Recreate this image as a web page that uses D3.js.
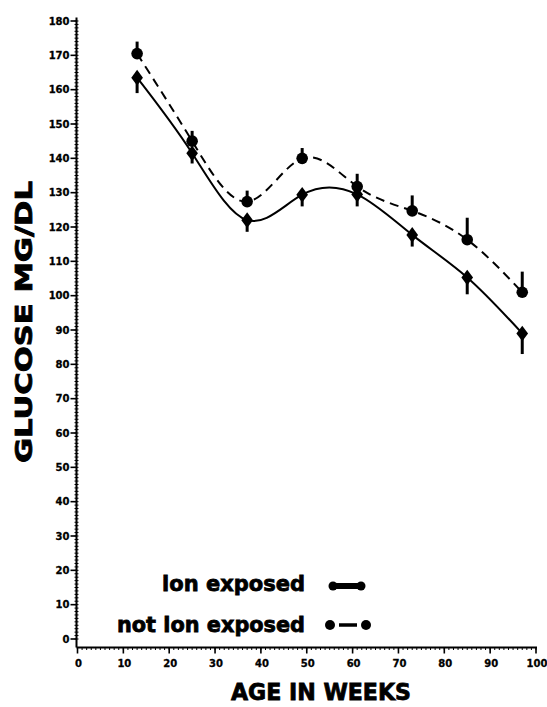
<!DOCTYPE html>
<html lang="en">
<head>
<meta charset="UTF-8">
<title>Glucose vs age</title>
<script src="https://d3js.org/d3.v7.min.js"></script>
<style>
    body { margin: 0; padding: 0; background: white; }
    text { font-family: 'DejaVu Sans', 'Liberation Sans', sans-serif; font-weight: bold; fill: #000; }
    .tick-label { font-size: 10px; stroke: #000; stroke-width: 0.3px; }
    .heavy { stroke: #000; stroke-width: 0.8px; }
</style>
</head>
<body>
<script>
    // data
    var weeks = [13, 25, 37, 49, 61, 73, 85, 97];
    var ionExposed = [163.5, 141.5, 122, 129.4, 129.5, 117.7, 105.3, 89];
    var ionErr = [4.5, 3, 3.4, 3.4, 3.5, 3.4, 4.9, 6];          // drawn downward
    var notExposed = [170.5, 145, 127.4, 140, 131.8, 124.7, 116.3, 101];
    var notErr = [3.5, 3, 3.2, 3, 3.7, 4.5, 6.4, 6];             // drawn upward
    var xTicks = [0, 10, 20, 30, 40, 50, 60, 70, 80, 90, 100];
    var yTicks = [0, 10, 20, 30, 40, 50, 60, 70, 80, 90, 100, 110, 120, 130, 140, 150, 160, 170, 180];
    var legendLabels = ["ion exposed", "not ion exposed"];

    var W = 547, H = 707;
    var svg = d3.select("body").append("svg")
        .attr("width", W)
        .attr("height", H);

    var x = d3.scaleLinear().domain([0, 100]).range([77.5, 536]);
    var y = d3.scaleLinear().domain([0, 180]).range([639, 21]);
    var axisX = 76.5, axisY = 647.5;

    // y axis
    var gy = svg.append("g");
    gy.append("line").attr("x1", axisX).attr("x2", axisX).attr("y1", y(181)).attr("y2", axisY)
        .attr("stroke", "#000").attr("stroke-width", 2);
    gy.selectAll("line.minor").data(d3.range(0, 181, 1)).enter().append("line")
        .attr("class", "minor")
        .attr("x1", axisX - 2).attr("x2", axisX + 2)
        .attr("y1", function(d) { return y(d); }).attr("y2", function(d) { return y(d); })
        .attr("stroke", "#000").attr("stroke-width", 1);
    gy.selectAll("line.major").data(yTicks).enter().append("line")
        .attr("class", "major")
        .attr("x1", axisX - 6).attr("x2", axisX)
        .attr("y1", function(d) { return y(d); }).attr("y2", function(d) { return y(d); })
        .attr("stroke", "#000").attr("stroke-width", 1.6);
    gy.selectAll("text").data(yTicks).enter().append("text")
        .attr("class", "tick-label")
        .attr("x", axisX - 7)
        .attr("y", function(d) { return y(d); })
        .attr("dy", "0.35em")
        .attr("text-anchor", "end")
        .text(function(d) { return d; });

    // x axis
    var gx = svg.append("g");
    gx.append("line").attr("x1", axisX).attr("x2", x(100) + 1).attr("y1", axisY).attr("y2", axisY)
        .attr("stroke", "#000").attr("stroke-width", 2);
    gx.selectAll("line.minor").data(d3.range(0, 101, 1)).enter().append("line")
        .attr("class", "minor")
        .attr("x1", function(d) { return x(d); }).attr("x2", function(d) { return x(d); })
        .attr("y1", axisY).attr("y2", axisY + 2.5)
        .attr("stroke", "#000").attr("stroke-width", 1);
    gx.selectAll("line.major").data(xTicks).enter().append("line")
        .attr("class", "major")
        .attr("x1", function(d) { return x(d); }).attr("x2", function(d) { return x(d); })
        .attr("y1", axisY).attr("y2", axisY + 6)
        .attr("stroke", "#000").attr("stroke-width", 1.6);
    gx.selectAll("text").data(xTicks).enter().append("text")
        .attr("class", "tick-label")
        .attr("x", function(d) { return x(d) + 1; })
        .attr("y", axisY + 19)
        .attr("text-anchor", "middle")
        .text(function(d) { return d; });

    // axis titles
    svg.append("text")
        .attr("class", "heavy")
        .attr("x", 321).attr("y", 700)
        .attr("text-anchor", "middle")
        .attr("font-size", 23)
        .attr("textLength", 180).attr("lengthAdjust", "spacingAndGlyphs")
        .text("AGE IN WEEKS");
    svg.append("text")
        .attr("class", "heavy")
        .attr("transform", "translate(32,322) rotate(-90)")
        .attr("text-anchor", "middle")
        .attr("font-size", 23)
        .attr("textLength", 282).attr("lengthAdjust", "spacingAndGlyphs")
        .text("GLUCOSE MG/DL");

    // curves
    var lineFit = d3.line()
        .x(function(d, i) { return x(weeks[i]); })
        .y(function(d) { return y(d); })
        .curve(d3.curveNatural);

    svg.append("path").datum(ionExposed)
        .attr("d", lineFit)
        .attr("fill", "none").attr("stroke", "#000").attr("stroke-width", 2);
    svg.append("path").datum(notExposed)
        .attr("d", lineFit)
        .attr("fill", "none").attr("stroke", "#000").attr("stroke-width", 2)
        .attr("stroke-dasharray", "9,6");

    // error bars
    svg.selectAll("line.errIon").data(ionExposed).enter().append("line")
        .attr("class", "errIon")
        .attr("x1", function(d, i) { return x(weeks[i]); })
        .attr("x2", function(d, i) { return x(weeks[i]); })
        .attr("y1", function(d) { return y(d); })
        .attr("y2", function(d, i) { return y(d - ionErr[i]); })
        .attr("stroke", "#000").attr("stroke-width", 3);
    svg.selectAll("line.errNot").data(notExposed).enter().append("line")
        .attr("class", "errNot")
        .attr("x1", function(d, i) { return x(weeks[i]); })
        .attr("x2", function(d, i) { return x(weeks[i]); })
        .attr("y1", function(d) { return y(d); })
        .attr("y2", function(d, i) { return y(d + notErr[i]); })
        .attr("stroke", "#000").attr("stroke-width", 3);

    // markers
    var diamond = d3.symbol().type(d3.symbolDiamond).size(70);
    svg.selectAll("path.ion").data(ionExposed).enter().append("path")
        .attr("class", "ion")
        .attr("d", diamond)
        .attr("transform", function(d, i) { return "translate(" + x(weeks[i]) + "," + y(d) + ") scale(1.3,1)"; })
        .attr("fill", "#000");
    svg.selectAll("circle.not").data(notExposed).enter().append("circle")
        .attr("class", "not")
        .attr("cx", function(d, i) { return x(weeks[i]); })
        .attr("cy", function(d) { return y(d); })
        .attr("r", 5.8)
        .attr("fill", "#000");

    // legend
    var leg = svg.append("g");
    leg.append("text").attr("class", "heavy")
        .attr("x", 305).attr("y", 591).attr("text-anchor", "end")
        .attr("font-size", 22)
        .attr("textLength", 143).attr("lengthAdjust", "spacingAndGlyphs")
        .text(legendLabels[0]);
    leg.append("text").attr("class", "heavy")
        .attr("x", 305).attr("y", 632).attr("text-anchor", "end")
        .attr("font-size", 22)
        .attr("textLength", 188).attr("lengthAdjust", "spacingAndGlyphs")
        .text(legendLabels[1]);

    leg.append("line").attr("x1", 333).attr("x2", 361).attr("y1", 586).attr("y2", 586)
        .attr("stroke", "#000").attr("stroke-width", 6);
    leg.selectAll("circle.l1").data([333, 361]).enter().append("circle")
        .attr("cx", function(d) { return d; }).attr("cy", 586).attr("r", 4.5).attr("fill", "#000");
    leg.append("line").attr("x1", 339).attr("x2", 357).attr("y1", 625).attr("y2", 625)
        .attr("stroke", "#000").attr("stroke-width", 3.5);
    leg.selectAll("circle.l2").data([330, 366]).enter().append("circle")
        .attr("cx", function(d) { return d; }).attr("cy", 625).attr("r", 5).attr("fill", "#000");
</script>
</body>
</html>
